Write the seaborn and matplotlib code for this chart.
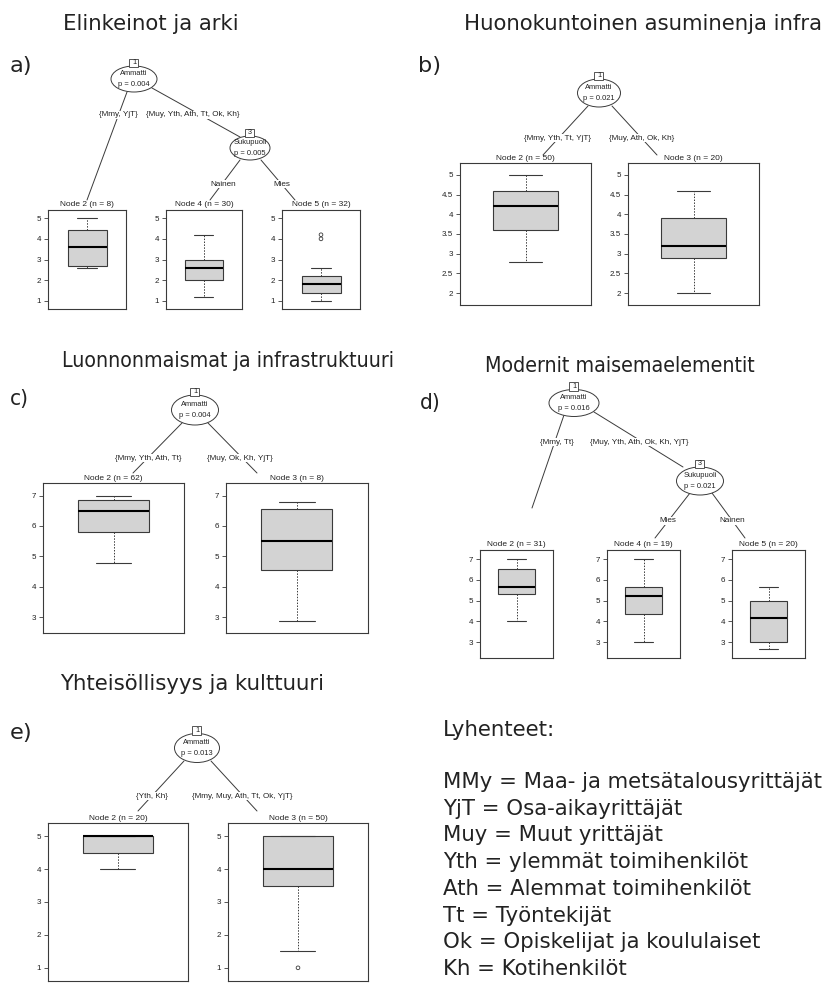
import numpy as np
import matplotlib
matplotlib.use("Agg")
import matplotlib.pyplot as plt
from matplotlib.patches import Ellipse, Rectangle
from matplotlib import font_manager as fm
import seaborn as sns

# ---------------------------------------------------------------- data
panel_titles = ["Elinkeinot ja arki", "Huonokuntoinen asuminenja infra",
                "Luonnonmaismat ja infrastruktuuri", "Modernit maisemaelementit",
                "Yhteisöllisyys ja kulttuuri"]
panel_letters = ["a)", "b)", "c)", "d)", "e)"]

# a) Elinkeinot ja arki
a_inner_ids = [1, 3]
a_inner_vars = ["Ammatti", "Sukupuoli"]
a_inner_p = ["0.004", "0.005"]
a_edge_labels = ["{Mmy, YjT}", "{Muy, Yth, Ath, Tt, Ok, Kh}", "Nainen", "Mies"]
a_term_ids = [2, 4, 5]
a_term_n = [8, 30, 32]
a_lo = [2.6, 1.2, 1.0]
a_q1 = [2.67, 2.0, 1.4]
a_med = [3.6, 2.6, 1.8]
a_q3 = [4.45, 3.0, 2.2]
a_hi = [5.0, 4.2, 2.6]
a_out = [[], [], [4.0, 4.2]]
a_ticks = [1, 2, 3, 4, 5]
a_ticklabels = ["1", "2", "3", "4", "5"]

# b) Huonokuntoinen asuminen ja infra
b_inner_ids = [1]
b_inner_vars = ["Ammatti"]
b_inner_p = ["0.021"]
b_edge_labels = ["{Mmy, Yth, Tt, YjT}", "{Muy, Ath, Ok, Kh}"]
b_term_ids = [2, 3]
b_term_n = [50, 20]
b_lo = [2.8, 2.0]
b_q1 = [3.6, 2.9]
b_med = [4.2, 3.2]
b_q3 = [4.6, 3.9]
b_hi = [5.0, 4.6]
b_out = [[], []]
b_ticks = [2, 2.5, 3, 3.5, 4, 4.5, 5]
b_ticklabels = ["2", "2.5", "3", "3.5", "4", "4.5", "5"]

# c) Luonnonmaisemat ja infrastruktuuri
c_inner_ids = [1]
c_inner_vars = ["Ammatti"]
c_inner_p = ["0.004"]
c_edge_labels = ["{Mmy, Yth, Ath, Tt}", "{Muy, Ok, Kh, YjT}"]
c_term_ids = [2, 3]
c_term_n = [62, 8]
c_lo = [4.8, 2.9]
c_q1 = [5.8, 4.55]
c_med = [6.5, 5.5]
c_q3 = [6.85, 6.55]
c_hi = [7.0, 6.8]
c_out = [[], []]
c_ticks = [3, 4, 5, 6, 7]
c_ticklabels = ["3", "4", "5", "6", "7"]

# d) Modernit maisemaelementit
d_inner_ids = [1, 3]
d_inner_vars = ["Ammatti", "Sukupuoli"]
d_inner_p = ["0.016", "0.021"]
d_edge_labels = ["{Mmy, Tt}", "{Muy, Yth, Ath, Ok, Kh, YjT}", "Mies", "Nainen"]
d_term_ids = [2, 4, 5]
d_term_n = [31, 19, 20]
d_lo = [4.0, 3.0, 2.67]
d_q1 = [5.33, 4.33, 3.0]
d_med = [5.67, 5.22, 4.17]
d_q3 = [6.5, 5.67, 5.0]
d_hi = [7.0, 7.0, 5.67]
d_out = [[], [], []]
d_ticks = [3, 4, 5, 6, 7]
d_ticklabels = ["3", "4", "5", "6", "7"]

# e) Yhteisöllisyys ja kulttuuri
e_inner_ids = [1]
e_inner_vars = ["Ammatti"]
e_inner_p = ["0.013"]
e_edge_labels = ["{Yth, Kh}", "{Mmy, Muy, Ath, Tt, Ok, YjT}"]
e_term_ids = [2, 3]
e_term_n = [20, 50]
e_lo = [4.0, 1.5]
e_q1 = [4.5, 3.5]
e_med = [5.0, 4.0]
e_q3 = [5.0, 5.0]
e_hi = [5.0, 5.0]
e_out = [[], [1.0]]
e_ticks = [1, 2, 3, 4, 5]
e_ticklabels = ["1", "2", "3", "4", "5"]

legend_title = "Lyhenteet:"
legend_lines = ["MMy = Maa- ja metsätalousyrittäjät",
                "YjT = Osa-aikayrittäjät",
                "Muy = Muut yrittäjät",
                "Yth = ylemmät toimihenkilöt",
                "Ath = Alemmat toimihenkilöt",
                "Tt = Työntekijät",
                "Ok = Opiskelijat ja koululaiset",
                "Kh = Kotihenkilöt"]

# ---------------------------------------------------------------- layout (pixels)
W, H = 828, 983
layouts = [
    dict(title=(151, 29.5), letter=(10, 72), cond=False,
         inner=[(134, 79, 46, 26), (250, 148, 40, 24)],
         edges=[((127, 92), (87, 200)), ((152, 88), (240, 137)),
                ((240, 160), (210, 200)), ((261, 160), (295, 200))],
         elab=[(118, 115), (193, 115), (223, 184), (282, 184)],
         frames=[(48, 126), (166, 242), (282, 360)], fy=(210, 309), ty=205),
    dict(title=(643, 29.5), letter=(418, 72), cond=False,
         inner=[(599, 93, 43, 28)],
         edges=[((588, 106), (543, 155)), ((612, 106), (657, 155))],
         elab=[(558, 138), (642, 138)],
         frames=[(460, 591), (628, 759)], fy=(163, 305), ty=158),
    dict(title=(228, 367), letter=(10, 405), cond=True,
         inner=[(195, 410, 47, 30)],
         edges=[((182, 423), (133, 473)), ((208, 423), (257, 473))],
         elab=[(148, 458), (240, 458)],
         frames=[(43, 184), (226, 368)], fy=(483, 633), ty=478),
    dict(title=(620, 372), letter=(420, 409), cond=True,
         inner=[(574, 403, 50, 27), (700, 481, 47, 28)],
         edges=[((564, 415), (532, 508)), ((594, 412), (683, 467)),
                ((690, 493), (655, 538)), ((712, 493), (745, 538))],
         elab=[(557, 442), (639, 442), (668, 521), (732, 521)],
         frames=[(480, 553), (607, 680), (732, 805)], fy=(550, 658), ty=544),
    dict(title=(192, 690), letter=(10, 739), cond=False,
         inner=[(197, 748, 45, 29)],
         edges=[((184, 761), (138, 811)), ((211, 761), (257, 811))],
         elab=[(152, 796), (242, 796)],
         frames=[(48, 188), (228, 368)], fy=(823, 981), ty=818),
]

panels = [
    dict(ids=a_inner_ids, vars=a_inner_vars, p=a_inner_p, el=a_edge_labels,
         tid=a_term_ids, tn=a_term_n, lo=a_lo, q1=a_q1, med=a_med, q3=a_q3,
         hi=a_hi, out=a_out, ticks=a_ticks, tl=a_ticklabels),
    dict(ids=b_inner_ids, vars=b_inner_vars, p=b_inner_p, el=b_edge_labels,
         tid=b_term_ids, tn=b_term_n, lo=b_lo, q1=b_q1, med=b_med, q3=b_q3,
         hi=b_hi, out=b_out, ticks=b_ticks, tl=b_ticklabels),
    dict(ids=c_inner_ids, vars=c_inner_vars, p=c_inner_p, el=c_edge_labels,
         tid=c_term_ids, tn=c_term_n, lo=c_lo, q1=c_q1, med=c_med, q3=c_q3,
         hi=c_hi, out=c_out, ticks=c_ticks, tl=c_ticklabels),
    dict(ids=d_inner_ids, vars=d_inner_vars, p=d_inner_p, el=d_edge_labels,
         tid=d_term_ids, tn=d_term_n, lo=d_lo, q1=d_q1, med=d_med, q3=d_q3,
         hi=d_hi, out=d_out, ticks=d_ticks, tl=d_ticklabels),
    dict(ids=e_inner_ids, vars=e_inner_vars, p=e_inner_p, el=e_edge_labels,
         tid=e_term_ids, tn=e_term_n, lo=e_lo, q1=e_q1, med=e_med, q3=e_q3,
         hi=e_hi, out=e_out, ticks=e_ticks, tl=e_ticklabels),
]

# ---------------------------------------------------------------- style
sns.set_style("white")
plt.rcParams["font.family"] = ["DejaVu Sans"]
SMALL = ["Liberation Sans", "DejaVu Sans"]
LINE = "#3a3a3a"
TXT = "#222222"

has_cond = any(f.name == "DejaVu Sans" and str(f.stretch) == "condensed"
               for f in fm.fontManager.ttflist)

fig = plt.figure(figsize=(W / 100, H / 100), dpi=100)
fig.patch.set_facecolor("white")
ax0 = fig.add_axes([0, 0, 1, 1])
ax0.set_xlim(0, W)
ax0.set_ylim(H, 0)
ax0.axis("off")

BIG = 15.3

for lay, dat, title, letter in zip(layouts, panels, panel_titles, panel_letters):
    # titles
    if lay["cond"]:
        if has_cond:
            tkw = dict(fontsize=BIG, fontstretch="condensed")
        else:
            tkw = dict(fontsize=BIG * 0.885)
    else:
        tkw = dict(fontsize=BIG)
    ax0.text(lay["title"][0], lay["title"][1], title, ha="center", va="baseline",
             color=TXT, **tkw)
    lkw = dict(tkw)
    lkw["fontsize"] = 16.2 if not lay["cond"] else tkw["fontsize"] * 16.2 / BIG
    ax0.text(lay["letter"][0], lay["letter"][1], letter, ha="left", va="baseline",
             color=TXT, **lkw)

    # edges + labels
    for (p0, p1), lab, lp in zip(lay["edges"], dat["el"], lay["elab"]):
        ax0.plot([p0[0], p1[0]], [p0[1], p1[1]], color=LINE, lw=0.7, zorder=1)
        ax0.text(lp[0], lp[1], lab, ha="center", va="center", fontsize=5.9,
                 family=SMALL, color=TXT, zorder=3,
                 bbox=dict(fc="white", ec="none", pad=0.4))

    # inner nodes
    for (cx, cy, w, h), nid, var, p in zip(lay["inner"], dat["ids"], dat["vars"], dat["p"]):
        ax0.add_patch(Ellipse((cx, cy), w, h, fc="white", ec=LINE, lw=0.7, zorder=2))
        ax0.add_patch(Rectangle((cx - 4.5, cy - h / 2 - 7.5), 9, 8.5, fc="white",
                                ec=LINE, lw=0.6, zorder=3))
        ax0.text(cx, cy - h / 2 - 3.2, str(nid), ha="center", va="center",
                 fontsize=5.2, family=SMALL, color=TXT, zorder=4)
        ax0.text(cx, cy - 5.2, var, ha="center", va="center", fontsize=5.4,
                 family=SMALL, color=TXT, zorder=4)
        ax0.text(cx, cy + 5.6, f"p = {p}", ha="center", va="center", fontsize=5.4,
                 family=SMALL, color=TXT, zorder=4)

    # terminal nodes with boxplots
    allv = np.concatenate([dat["lo"], dat["hi"]] + [np.array(o, float) for o in dat["out"]])
    vmin, vmax = allv.min(), allv.max()
    pad = 0.1 * (vmax - vmin)
    y0, y1 = lay["fy"]
    for (x0, x1), tid, tn, lo, q1, md, q3, hi, out in zip(
            lay["frames"], dat["tid"], dat["tn"], dat["lo"], dat["q1"], dat["med"],
            dat["q3"], dat["hi"], dat["out"]):
        ax0.text((x0 + x1) / 2, lay["ty"], f"Node {tid} (n = {tn})", ha="center",
                 va="center", fontsize=6.0, family=SMALL, color=TXT)
        ax = fig.add_axes([x0 / W, 1 - y1 / H, (x1 - x0) / W, (y1 - y0) / H])
        summary = [lo, q1, md, q3, hi]
        sns.boxplot(y=summary, ax=ax, whis=(0, 100), width=0.5, color="#d3d3d3",
                    linecolor=LINE, linewidth=0.8, saturation=1,
                    medianprops=dict(color="black", linewidth=1.5),
                    whiskerprops=dict(linestyle=(0, (1.5, 1.5)), linewidth=0.7),
                    capprops=dict(linewidth=0.8))
        if len(out):
            ax.scatter(np.zeros(len(out)), out, s=7, facecolors="none",
                       edgecolors=LINE, linewidths=0.6, zorder=5)
        ax.set_xlim(-0.5, 0.5)
        ax.set_ylim(vmin - pad, vmax + pad)
        ax.set_xticks([])
        ax.set_yticks(dat["ticks"])
        ax.set_yticklabels(dat["tl"], family=SMALL, fontsize=5.8, color=TXT)
        ax.tick_params(axis="y", length=3, width=0.6, color=LINE, pad=2, left=True)
        ax.set_ylabel("")
        ax.set_xlabel("")
        for s in ax.spines.values():
            s.set_visible(True)
            s.set_color(LINE)
            s.set_linewidth(0.8)
        ax.set_facecolor("white")

# legend of abbreviations
ax0.text(443, 736, legend_title, ha="left", va="baseline", fontsize=BIG, color=TXT)
for i, line in enumerate(legend_lines):
    ax0.text(443, 788 + 26.7 * i, line, ha="left", va="baseline", fontsize=BIG, color=TXT)

fig.savefig("out.png", dpi=100, facecolor="white")
